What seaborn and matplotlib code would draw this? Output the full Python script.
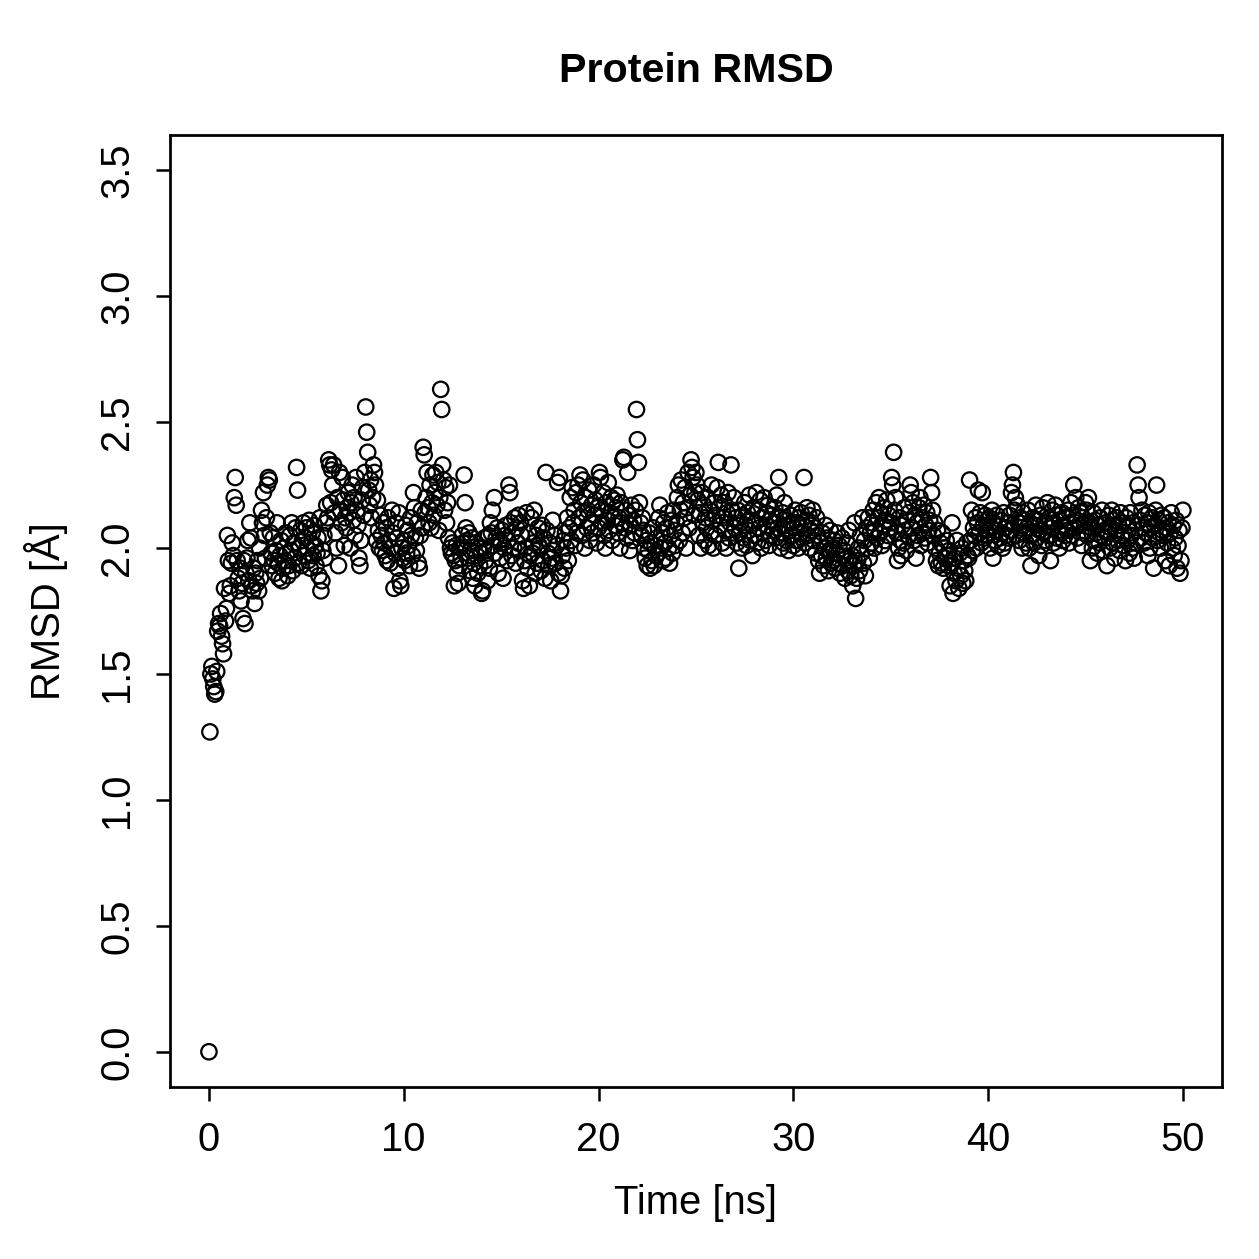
import numpy as np
import pandas as pd
import seaborn as sns
import matplotlib.pyplot as plt

# RMSD per frame, one row per ns (20 frames per ns, 0.05 ns step)
rmsd_rows = [
    [0.00, 1.27, 1.50, 1.53, 1.48, 1.45, 1.42, 1.43, 1.51, 1.67, 1.70, 1.69, 1.74, 1.65, 1.62, 1.58, 1.84, 1.71, 1.76, 2.05],
    [1.95, 1.82, 1.85, 1.94, 2.02, 1.97, 2.20, 2.28, 2.17, 1.95, 1.88, 1.83, 1.92, 1.79, 1.86, 1.72, 1.95, 1.70, 1.90, 1.96],
    [2.03, 1.87, 2.10, 2.04, 1.85, 1.83, 1.92, 1.78, 1.90, 1.86, 1.95, 1.83, 2.00, 1.88, 2.15, 2.10, 2.22, 2.05, 1.96, 2.12],
    [2.25, 2.28, 2.27, 2.06, 1.98, 1.93, 2.04, 1.95, 1.90, 1.99, 2.10, 1.94, 1.88, 1.97, 2.03, 1.87, 1.92, 2.00, 1.95, 2.06],
    [1.98, 1.89, 1.93, 2.05, 1.99, 2.10, 1.91, 2.02, 1.96, 2.08, 2.32, 2.23, 1.94, 2.00, 2.07, 1.93, 2.03, 2.10, 1.97, 2.04],
    [2.08, 2.00, 1.95, 2.11, 1.92, 2.02, 2.06, 1.97, 2.09, 2.01, 1.93, 1.98, 2.04, 1.89, 2.12, 1.83, 1.87, 1.99, 2.05, 1.96],
    [2.10, 2.17, 2.12, 2.35, 2.33, 2.18, 2.31, 2.25, 2.33, 2.14, 2.06, 2.00, 2.20, 1.93, 2.30, 2.15, 2.10, 2.28, 2.19, 2.01],
    [2.12, 2.08, 2.16, 2.22, 2.14, 2.00, 2.18, 2.25, 2.11, 2.20, 2.05, 2.28, 2.15, 2.09, 1.96, 1.93, 2.03, 2.19, 2.24, 2.13],
    [2.30, 2.56, 2.46, 2.38, 2.23, 2.17, 2.27, 2.12, 2.20, 2.33, 2.30, 2.25, 2.03, 2.19, 2.07, 2.00, 2.13, 2.05, 1.99, 2.10],
    [2.02, 1.97, 2.08, 1.95, 2.12, 2.03, 1.94, 2.00, 2.15, 2.06, 1.84, 1.98, 2.10, 2.04, 1.92, 2.14, 1.87, 1.85, 2.00, 1.96],
    [2.03, 1.95, 2.09, 1.98, 2.07, 2.01, 1.93, 2.12, 2.05, 1.97, 2.22, 2.16, 2.04, 1.99, 2.10, 1.94, 1.92, 2.05, 2.15, 2.08],
    [2.40, 2.37, 2.14, 2.20, 2.30, 2.16, 2.10, 2.25, 2.08, 2.18, 2.29, 2.13, 2.22, 2.30, 2.17, 2.26, 2.07, 2.20, 2.63, 2.55],
    [2.33, 2.27, 2.15, 2.24, 2.10, 2.18, 2.04, 2.25, 2.00, 1.98, 2.02, 1.97, 1.85, 1.95, 2.01, 1.90, 1.86, 1.93, 2.00, 1.96],
    [2.05, 2.02, 2.29, 2.18, 2.08, 2.03, 1.96, 2.06, 1.91, 1.99, 2.04, 1.88, 1.94, 1.85, 2.02, 1.97, 1.90, 2.00, 1.93, 1.98],
    [1.82, 1.83, 2.00, 2.04, 1.95, 1.99, 1.87, 2.05, 1.92, 2.10, 2.06, 2.15, 2.01, 2.20, 1.98, 2.04, 2.08, 1.90, 2.03, 1.96],
    [2.02, 2.07, 1.88, 2.00, 2.05, 2.09, 1.95, 2.03, 2.25, 2.22, 2.10, 1.97, 2.06, 2.00, 2.12, 1.94, 2.08, 2.02, 2.13, 1.99],
    [2.10, 2.05, 1.87, 1.84, 1.95, 2.00, 2.14, 1.92, 2.06, 1.85, 1.97, 2.12, 1.98, 2.02, 2.15, 1.90, 2.05, 1.94, 2.08, 2.01],
    [2.00, 1.91, 2.09, 1.95, 2.04, 1.88, 2.30, 2.07, 1.98, 1.93, 2.02, 1.87, 1.96, 2.11, 1.99, 2.05, 1.94, 2.01, 2.26, 1.90],
    [2.28, 1.83, 1.89, 1.97, 2.03, 1.92, 2.06, 2.00, 2.12, 1.95, 2.08, 2.20, 2.03, 2.24, 2.10, 2.15, 2.01, 2.22, 2.06, 2.25],
    [2.12, 2.29, 2.18, 2.05, 2.27, 2.14, 2.00, 2.20, 2.08, 2.15, 2.23, 2.03, 2.10, 2.17, 2.06, 2.25, 2.13, 2.19, 2.02, 2.16],
    [2.08, 2.30, 2.28, 2.15, 2.10, 2.22, 2.05, 2.00, 2.18, 2.11, 2.26, 2.07, 2.14, 2.20, 2.03, 2.12, 2.19, 2.09, 2.16, 2.21],
    [2.06, 2.12, 2.00, 2.18, 2.10, 2.35, 2.36, 2.08, 2.15, 2.04, 2.30, 2.13, 1.99, 2.09, 2.17, 2.03, 2.11, 2.06, 2.15, 2.55],
    [2.43, 2.34, 2.18, 2.10, 2.05, 2.12, 2.07, 2.00, 1.96, 2.03, 1.93, 1.99, 2.06, 1.92, 2.02, 1.95, 2.08, 1.93, 2.01, 1.97],
    [2.04, 1.98, 2.12, 2.17, 2.00, 2.06, 1.95, 2.10, 2.02, 1.96, 2.08, 2.14, 2.00, 1.94, 2.05, 2.11, 1.98, 2.15, 2.07, 2.01],
    [2.10, 2.20, 2.25, 2.03, 2.15, 2.27, 2.06, 2.18, 2.12, 2.24, 2.00, 2.16, 2.30, 2.08, 2.21, 2.35, 2.32, 2.28, 2.13, 2.22],
    [2.30, 2.25, 2.19, 2.05, 2.14, 2.00, 2.22, 2.10, 2.17, 2.03, 2.12, 2.08, 2.20, 2.01, 2.15, 2.06, 2.25, 2.11, 2.00, 2.18],
    [2.05, 2.13, 2.24, 2.34, 2.16, 2.09, 2.21, 2.02, 2.12, 2.18, 2.07, 2.00, 2.14, 2.22, 2.04, 2.10, 2.33, 2.15, 2.06, 2.20],
    [2.08, 2.12, 2.02, 2.15, 1.92, 2.06, 2.10, 2.00, 2.13, 2.04, 2.18, 2.09, 2.01, 2.14, 2.07, 2.21, 2.03, 2.11, 1.97, 2.16],
    [2.05, 2.10, 2.22, 2.02, 2.15, 2.08, 2.19, 2.00, 2.12, 2.06, 2.20, 2.03, 2.14, 2.09, 2.17, 2.01, 2.11, 2.05, 2.13, 2.07],
    [2.10, 2.16, 2.04, 2.21, 2.08, 2.28, 2.12, 2.00, 2.06, 2.14, 2.02, 2.18, 2.09, 2.03, 2.11, 1.99, 2.07, 2.13, 2.05, 2.10],
    [2.01, 2.08, 2.15, 2.03, 2.10, 2.00, 2.12, 2.06, 2.14, 2.04, 2.09, 2.28, 2.02, 2.11, 2.16, 2.05, 2.13, 2.00, 2.07, 2.10],
    [2.15, 2.03, 2.08, 1.98, 2.12, 2.05, 1.95, 1.90, 2.02, 1.97, 2.06, 1.93, 2.00, 2.09, 1.96, 2.04, 1.91, 1.99, 2.07, 1.94],
    [2.00, 1.95, 2.03, 1.92, 1.98, 2.06, 1.94, 2.01, 1.90, 1.97, 2.04, 1.93, 1.99, 1.88, 1.96, 2.02, 1.91, 2.07, 1.95, 1.89],
    [1.97, 1.85, 1.93, 2.10, 1.80, 1.88, 1.95, 2.00, 1.91, 2.05, 1.98, 2.12, 1.94, 2.03, 1.89, 2.08, 2.00, 2.12, 1.96, 2.06],
    [2.02, 2.10, 2.15, 2.00, 2.07, 2.18, 2.04, 2.12, 2.20, 2.06, 2.14, 2.01, 2.09, 2.16, 2.03, 2.11, 2.19, 2.05, 2.13, 2.08],
    [2.10, 2.28, 2.25, 2.38, 2.15, 2.20, 2.06, 1.95, 2.00, 2.12, 2.03, 1.97, 2.09, 2.02, 2.16, 2.07, 1.99, 2.11, 2.05, 2.14],
    [2.25, 2.22, 2.08, 2.18, 2.03, 2.13, 1.96, 2.10, 2.05, 2.16, 2.20, 2.01, 2.12, 2.06, 2.17, 2.04, 2.09, 2.14, 2.02, 2.07],
    [2.11, 2.28, 2.22, 2.15, 2.05, 2.10, 2.00, 1.95, 2.07, 1.93, 1.98, 2.02, 1.94, 2.06, 1.92, 2.00, 1.96, 2.03, 1.97, 1.93],
    [1.99, 1.85, 1.94, 2.10, 1.82, 1.90, 1.96, 1.87, 2.03, 1.92, 1.84, 1.98, 1.89, 2.00, 1.86, 1.95, 1.91, 1.87, 2.02, 1.97],
    [1.96, 2.27, 2.03, 2.15, 1.99, 2.08, 2.05, 2.12, 2.00, 2.10, 2.23, 2.06, 2.14, 2.02, 2.22, 2.09, 2.04, 2.13, 2.07, 2.11],
    [2.05, 2.12, 2.00, 2.08, 2.15, 1.96, 2.10, 2.03, 2.07, 2.13, 2.01, 2.09, 2.04, 2.11, 2.06, 2.00, 2.14, 2.02, 2.08, 2.05],
    [2.10, 2.04, 2.13, 2.07, 2.22, 2.25, 2.30, 2.15, 2.20, 2.05, 2.17, 2.10, 2.03, 2.12, 2.08, 2.00, 2.14, 2.06, 2.11, 2.02],
    [2.08, 2.15, 2.00, 2.10, 1.93, 2.05, 2.12, 2.02, 2.09, 2.17, 2.04, 2.11, 1.97, 2.07, 2.13, 2.01, 2.16, 2.06, 2.10, 2.03],
    [2.09, 2.18, 2.05, 2.12, 1.95, 2.08, 2.15, 2.02, 2.10, 2.17, 2.04, 2.13, 2.07, 2.00, 2.11, 2.06, 2.14, 2.03, 2.09, 2.05],
    [2.12, 2.07, 2.15, 2.02, 2.10, 2.18, 2.05, 2.13, 2.25, 2.08, 2.20, 2.11, 2.04, 2.16, 2.09, 2.14, 2.01, 2.12, 2.06, 2.10],
    [2.18, 2.15, 2.05, 2.20, 2.10, 1.95, 2.08, 2.00, 2.14, 2.03, 2.11, 2.06, 1.98, 2.09, 2.02, 2.12, 2.05, 2.15, 1.99, 2.07],
    [2.04, 2.10, 1.93, 2.06, 2.13, 2.00, 2.08, 2.15, 2.02, 2.11, 1.96, 2.07, 2.12, 2.03, 2.09, 1.99, 2.14, 2.05, 2.10, 2.01],
    [2.06, 1.95, 2.12, 2.03, 2.09, 1.98, 2.14, 2.05, 2.00, 2.10, 1.96, 2.07, 2.02, 2.33, 2.25, 2.20, 2.11, 2.04, 2.15, 2.08],
    [2.02, 2.13, 2.06, 2.10, 1.97, 2.14, 2.00, 2.08, 2.12, 2.04, 1.92, 2.09, 2.15, 2.25, 2.03, 2.11, 2.06, 2.00, 2.13, 2.07],
    [2.05, 2.12, 1.95, 2.08, 2.02, 2.10, 1.93, 2.06, 2.14, 2.00, 2.09, 1.97, 2.04, 2.11, 1.92, 2.01, 2.07, 1.90, 1.95, 2.08],
    [2.15],
]
frame_step_ns = 0.05
x_ticks = [0, 10, 20, 30, 40, 50]
y_ticks = [0.0, 0.5, 1.0, 1.5, 2.0, 2.5, 3.0, 3.5]

rmsd = [v for row in rmsd_rows for v in row]
df = pd.DataFrame({"time": np.arange(len(rmsd)) * frame_step_ns, "rmsd": rmsd})

sns.set_style("ticks")
plt.rcParams["font.family"] = ["Liberation Sans", "DejaVu Sans"]
plt.rcParams["text.color"] = "black"
plt.rcParams["axes.labelcolor"] = "black"
plt.rcParams["xtick.color"] = "black"
plt.rcParams["ytick.color"] = "black"

fig = plt.figure(figsize=(1259 / 180, 1259 / 180), dpi=180)
ax = fig.add_axes([0.135, 0.1366, 0.8355, 0.7562])

# open circles, like R's default pch=1
sns.scatterplot(data=df, x="time", y="rmsd", ax=ax, marker="o", s=38,
                facecolors="none", edgecolors="black", linewidths=0.9)

ax.set_xlim(-2, 52)
ax.set_ylim(-0.14, 3.64)
ax.set_xticks(x_ticks)
ax.set_yticks(y_ticks)
ax.set_xticklabels([str(t) for t in x_ticks])
ax.set_yticklabels([f"{t:.1f}" for t in y_ticks], rotation=90, va="center")
ax.tick_params(axis="both", length=5.5, width=1.0, labelsize=16, pad=8, color="black")
for sp in ax.spines.values():
    sp.set_linewidth(1.1)
    sp.set_color("black")

ax.set_xlabel("Time [ns]", fontsize=16, labelpad=10)
ax.set_ylabel("RMSD [Å]", fontsize=16, labelpad=12)
ax.set_title("Protein RMSD", fontsize=16.5, fontweight="bold", pad=21)

fig.savefig("out.png", dpi=180, facecolor="white")
